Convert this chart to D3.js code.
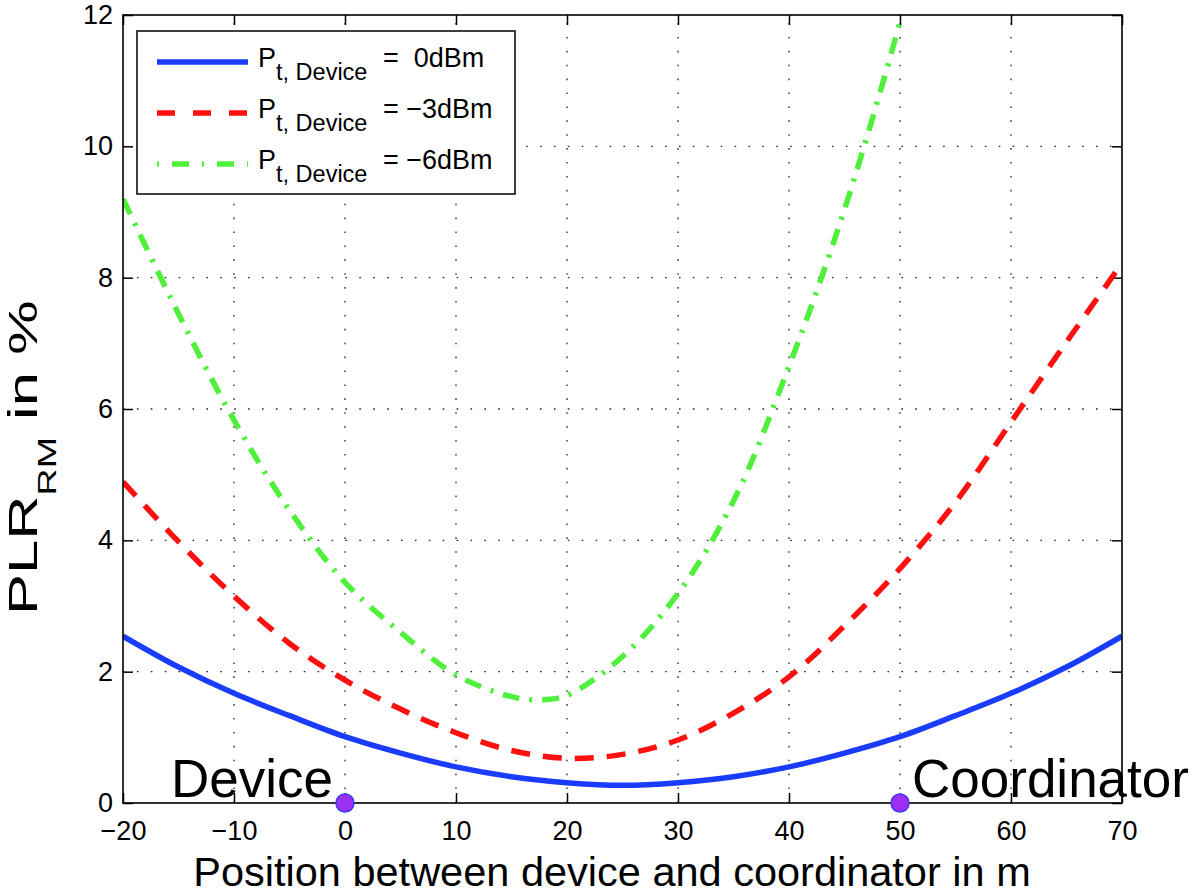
<!DOCTYPE html>
<html>
<head>
<meta charset="utf-8">
<script src="https://cdn.jsdelivr.net/npm/d3@7"></script>
<style>
  html, body { margin: 0; padding: 0; background: #fff; }
  svg { display: block; font-family: "Liberation Sans", Arial, Helvetica, sans-serif; }
</style>
</head>
<body>
<svg id="chart" width="1200" height="896"></svg>
<script>
// ---------------- data ----------------
const positions = [-20, -15, -10, -5, 0, 5, 10, 15, 20, 25, 30, 35, 40, 45, 50, 55, 60, 65, 70];
const plr0dBm  = [2.54, 2.07, 1.67, 1.33, 1.01, 0.76, 0.55, 0.40, 0.31, 0.27, 0.31, 0.40, 0.55, 0.76, 1.01, 1.33, 1.67, 2.07, 2.54];
const plr3dBm  = [4.89, 3.98, 3.15, 2.43, 1.87, 1.43, 1.07, 0.80, 0.68, 0.74, 0.96, 1.37, 1.92, 2.70, 3.57, 4.58, 5.80, 7.02, 8.22];
const positions6 = [-20, -15, -10, -5, 0, 5, 10, 15, 17.5, 20, 25, 30, 35, 40, 45, 50, 51];
const plr6dBm  = [9.20, 7.45, 5.83, 4.46, 3.36, 2.60, 1.95, 1.62, 1.57, 1.64, 2.23, 3.19, 4.60, 6.65, 9.04, 11.9, 12.6];

const seriesNames = ["0dBm", "\u22123dBm", "\u22126dBm"];
const seriesEq = ["=  ", "= ", "= "];
const seriesColors = ["#1a3cff", "#ff1010", "#4ef03a"];
const seriesDash = [null, "19,13", "17,10,3,10"];
const legendDash = [null, "18,18", "2,13,17,13"];

const xTicks = [-20, -10, 0, 10, 20, 30, 40, 50, 60, 70];
const yTicks = [0, 2, 4, 6, 8, 10, 12];

const markerX = [0, 50];
const markerY = [0, 0];
const markerLabels = ["Device", "Coordinator"];

const xLabel = "Position between device and coordinator in m";

// ---------------- layout ----------------
const L = 123, R = 1122, T = 15, B = 803;
const svg = d3.select("#chart");
const x = d3.scaleLinear().domain([-20, 70]).range([L, R]);
const y = d3.scaleLinear().domain([0, 12]).range([B, T]);
const fmt = d => d < 0 ? "\u2212" + Math.abs(d) : String(d);

// grid
const grid = svg.append("g").attr("stroke", "#222").attr("stroke-width", 1.3).attr("stroke-dasharray", "1.6,12.3");
grid.selectAll("line.gx").data(xTicks.slice(1, -1)).join("line")
  .attr("x1", d => x(d)).attr("x2", d => x(d)).attr("y1", B).attr("y2", T);
grid.selectAll("line.gy").data(yTicks.slice(1, -1)).join("line")
  .attr("x1", L).attr("x2", R).attr("y1", d => y(d)).attr("y2", d => y(d));

// axes
const axFont = 27;
const gx = svg.append("g").attr("transform", `translate(0,${B})`)
  .call(d3.axisBottom(x).tickValues(xTicks).tickFormat(fmt).tickSize(-10).tickPadding(18));
const gy = svg.append("g").attr("transform", `translate(${L},0)`)
  .call(d3.axisLeft(y).tickValues(yTicks).tickFormat(fmt).tickSize(-10).tickPadding(10));
const gt = svg.append("g").attr("transform", `translate(0,${T})`)
  .call(d3.axisTop(x).tickValues(xTicks).tickFormat("").tickSize(-10));
const gr = svg.append("g").attr("transform", `translate(${R},0)`)
  .call(d3.axisRight(y).tickValues(yTicks).tickFormat("").tickSize(-10));
[gx, gy, gt, gr].forEach(g => {
  g.select(".domain").remove();
  g.selectAll(".tick line").attr("stroke", "#000").attr("stroke-width", 1.5);
  g.selectAll(".tick text").attr("fill", "#000").attr("font-size", axFont)
    .attr("font-family", "Liberation Sans, Arial, Helvetica, sans-serif");
});

// clip
svg.append("clipPath").attr("id", "clip").append("rect")
  .attr("x", L).attr("y", T).attr("width", R - L).attr("height", B - T);

// lines
const line = d3.line().x(d => x(d[0])).y(d => y(d[1])).curve(d3.curveCatmullRom.alpha(0.5));
const seriesData = [
  d3.zip(positions, plr0dBm),
  d3.zip(positions, plr3dBm),
  d3.zip(positions6, plr6dBm)
];
const lines = svg.append("g").attr("clip-path", "url(#clip)");
seriesData.forEach((data, i) => {
  lines.append("path").datum(data)
    .attr("d", line).attr("fill", "none")
    .attr("stroke", seriesColors[i]).attr("stroke-width", 5.5)
    .attr("stroke-dasharray", seriesDash[i]);
});

// frame
svg.append("rect").attr("x", L).attr("y", T).attr("width", R - L).attr("height", B - T)
  .attr("fill", "none").attr("stroke", "#000").attr("stroke-width", 1.6);

// markers
svg.append("g").selectAll("circle").data(d3.zip(markerX, markerY)).join("circle")
  .attr("cx", d => x(d[0])).attr("cy", d => y(d[1])).attr("r", 9)
  .attr("fill", "#a030f0").attr("stroke", "#3a3aff").attr("stroke-width", 1.5);

// marker labels
svg.append("text").attr("x", x(markerX[0]) - 12).attr("y", 797).attr("text-anchor", "end")
  .attr("font-size", 53).attr("fill", "#000").text(markerLabels[0]);
svg.append("text").attr("x", x(markerX[1]) + 12).attr("y", 797).attr("text-anchor", "start")
  .attr("font-size", 53).attr("fill", "#000").text(markerLabels[1]);

// axis labels
svg.append("text").attr("x", 612).attr("y", 886).attr("text-anchor", "middle")
  .attr("font-size", 41.5).attr("fill", "#000").text(xLabel);
const yl = svg.append("text").attr("transform", "translate(37,615) rotate(-90) scale(1.5,1)")
  .attr("text-anchor", "start").attr("font-size", 41).attr("fill", "#000");
yl.append("tspan").text("PLR");
yl.append("tspan").attr("font-size", 25).attr("dy", 19).text("RM");
yl.append("tspan").attr("dy", -19).text(" in %");

// legend
const lg = svg.append("g");
lg.append("rect").attr("x", 137).attr("y", 31).attr("width", 378).attr("height", 163)
  .attr("fill", "#fff").attr("stroke", "#000").attr("stroke-width", 1.5);
seriesNames.forEach((name, i) => {
  const ly = 62 + i * 51;
  lg.append("line").attr("x1", 157).attr("x2", 248).attr("y1", ly).attr("y2", ly)
    .attr("stroke", seriesColors[i]).attr("stroke-width", 5.5)
    .attr("stroke-dasharray", legendDash[i]);
  const t = lg.append("text").attr("x", 258).attr("y", ly + 4.5).attr("font-size", 27)
    .attr("fill", "#000").style("white-space", "pre");
  t.append("tspan").text("P");
  t.append("tspan").attr("font-size", 23.5).attr("dy", 13).text("t, Device");
  t.append("tspan").attr("x", 383).attr("dy", -13).text(seriesEq[i] + name);
});
</script>
</body>
</html>
